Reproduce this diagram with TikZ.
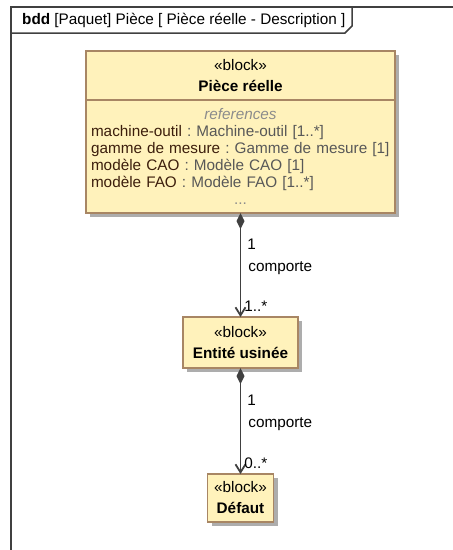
\documentclass[tikz,border=0pt]{standalone}
\usepackage{fontspec}
\setmainfont{Liberation Sans}
\usetikzlibrary{positioning,arrows.meta,shadows}
\frenchspacing

\definecolor{blockfill}{RGB}{255,242,187}
\definecolor{blockline}{RGB}{168,134,100}
\definecolor{linegray}{RGB}{64,64,64}
\definecolor{namebrown}{RGB}{60,30,12}
\definecolor{typegray}{RGB}{88,88,88}
\definecolor{refgray}{RGB}{140,140,140}

\tikzset{
	frame/.style={draw=linegray, line width=1.5pt},
	block/.style={draw=blockline, fill=blockfill, line width=1.2pt, outer sep=0pt,
		inner sep=0pt, align=center, font=\fontsize{15.3}{21}\selectfont,
		drop shadow={shadow xshift=4pt, shadow yshift=-4pt, fill=black!32, opacity=1}},
	comporte/.style={draw=linegray, line width=1.8pt,
		{Diamond[length=16pt,width=8pt]}-{Straight Barb[length=8pt,width=10pt]}},
	mult/.style={anchor=west, inner sep=0pt, font=\fontsize{15.3}{17}\selectfont}
}

\begin{document}
\begin{tikzpicture}[x=1pt, y=-1pt]

	% Frame
	\useasboundingbox (0,0) rectangle (453,550);
	\draw[frame] (11,550) -- (11,7) -- (453,7);
	\draw[frame] (11,33) -- (345,33) -- (352,26) -- (352,7);
	\node[anchor=west, inner sep=0pt, font=\fontsize{15.3}{17}\selectfont] (titre) at (22,20)
		{\textbf{bdd} [Paquet] Pièce [ Pièce réelle - Description ]};

	% Blocks
	\node[block, minimum width=309pt, minimum height=49pt] (piece) at (240.5,75.5)
		{«block»\\\textbf{Pièce réelle}};
	\node[block, minimum width=309pt, minimum height=113pt, below=0pt of piece,
		align=left, text width=299pt, text=typegray, font=\fontsize{15.3}{17}\selectfont] (pieceref)
		{\makebox[299pt]{\textcolor{refgray}{\textit{references}}}\\
		\mbox{\textcolor{namebrown}{machine-outil} : Machine-outil [1..*]}\\
		\mbox{\textcolor{namebrown}{gamme de mesure} : Gamme de mesure [1]}\\
		\mbox{\textcolor{namebrown}{modèle CAO} : Modèle CAO [1]}\\
		\mbox{\textcolor{namebrown}{modèle FAO} : Modèle FAO [1..*]}\\
		\makebox[299pt]{\textcolor{refgray}{...}}\\[3pt]};
	\node[block, minimum width=115pt, minimum height=51pt, below=104pt of pieceref] (entite)
		{«block»\\\textbf{Entité usinée}};
	\node[block, minimum width=66pt, minimum height=48pt, below=106pt of entite] (defaut)
		{«block»\\\textbf{Défaut}};

	% Associations
	\draw[comporte] (pieceref) -- (entite)
		node[mult, pos=0.3, xshift=6pt] {1}
		node[mult, pos=0.53, xshift=7pt] {comporte}
		node[mult, pos=0.9, xshift=3pt] {1..*};
	\draw[comporte] (entite) -- (defaut)
		node[mult, pos=0.3, xshift=6pt] {1}
		node[mult, pos=0.53, xshift=7pt] {comporte}
		node[mult, pos=0.9, xshift=3pt] {0..*};

\end{tikzpicture}
\end{document}
